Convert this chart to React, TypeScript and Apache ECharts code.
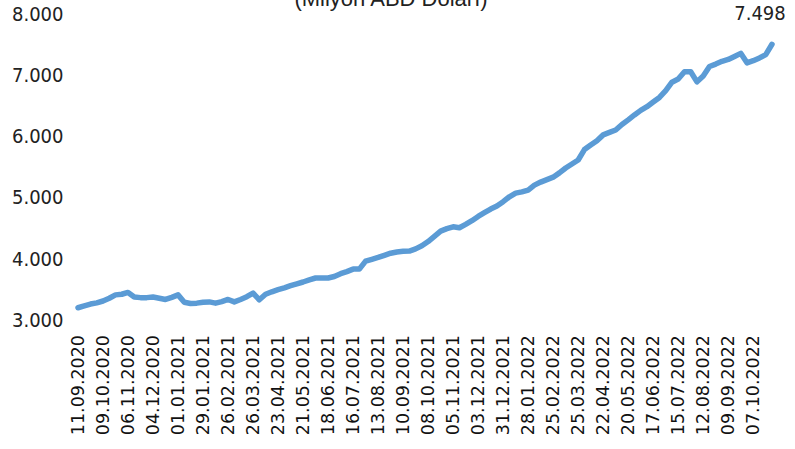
import React, { useEffect, useRef } from "react";
import * as echarts from "echarts";

// Weekly observations (Friday dates) starting 11.09.2020
const startDate = "2020-09-11";
const weekCount = 112;

// Values in million USD
const values: number[] = [
  3200, 3230, 3260, 3280, 3310, 3355, 3410, 3420, 3450, 3375,
  3365, 3365, 3375, 3355, 3335, 3370, 3410, 3290, 3270, 3275,
  3290, 3295, 3275, 3300, 3335, 3295, 3335, 3380, 3440, 3330,
  3420, 3460, 3495, 3525, 3560, 3590, 3620, 3655, 3685, 3685,
  3685, 3710, 3755, 3790, 3830, 3830, 3960, 3990, 4020, 4055,
  4090, 4110, 4120, 4125, 4160, 4210, 4280, 4365, 4450, 4490,
  4520, 4505, 4560, 4620, 4690, 4750, 4810, 4860, 4930, 5010,
  5070, 5090, 5120, 5200, 5250, 5290, 5330, 5400, 5480, 5545,
  5610, 5780, 5855, 5925, 6020, 6060, 6100, 6190, 6265, 6345,
  6420, 6480, 6555, 6630, 6740, 6880, 6930, 7050, 7050, 6885,
  6980, 7135, 7175, 7220, 7250, 7300, 7350, 7195, 7230, 7275,
  7330, 7498,
];

const yTicks = { min: 3000, max: 8000, interval: 1000 };
const titleText = "(Milyon ABD Doları)";

function buildDates(): string[] {
  const out: string[] = [];
  const base = new Date(startDate + "T00:00:00Z").getTime();
  for (let i = 0; i < weekCount; i++) {
    const d = new Date(base + i * 7 * 86400000);
    const dd = String(d.getUTCDate()).padStart(2, "0");
    const mm = String(d.getUTCMonth() + 1).padStart(2, "0");
    out.push(`${dd}.${mm}.${d.getUTCFullYear()}`);
  }
  return out;
}
const categories = buildDates();

const fmt = (v: number) => {
  const s = String(Math.round(v));
  return s.replace(/\B(?=(\d{3})+(?!\d))/g, ".");
};

export default function App() {
  const ref = useRef<HTMLDivElement>(null);
  useEffect(() => {
    if (!ref.current) return;
    const chart = echarts.init(ref.current, null, { renderer: "svg" });
    const narrow = '"Liberation Sans Narrow", "Arial Narrow", "DejaVu Sans Condensed", sans-serif';
    const lastIdx = values.length - 1;
    chart.setOption({
      animation: false,
      grid: { left: 78, right: 23, top: 13.5, bottom: 129, containLabel: false },
      graphic: [
        {
          type: "text",
          x: 391,
          y: 9,
          style: {
            text: titleText,
            font: '22px "Liberation Sans", Arial, sans-serif',
            fill: "#222",
            textAlign: "center",
            textVerticalAlign: "bottom",
          },
        },
      ],
      xAxis: {
        type: "category",
        data: categories,
        boundaryGap: false,
        axisLine: { show: false },
        axisTick: { show: false },
        splitLine: { show: false },
        axisLabel: {
          interval: 3,
          rotate: 90,
          margin: 15,
          fontSize: 17.5,
          fontFamily: '"DejaVu Sans", sans-serif',
          color: "#111",
        },
      },
      yAxis: {
        type: "value",
        min: yTicks.min,
        max: yTicks.max,
        interval: yTicks.interval,
        axisLine: { show: false },
        axisTick: { show: false },
        splitLine: { show: false },
        axisLabel: {
          align: "left",
          margin: 66,
          fontSize: 20,
          fontFamily: narrow,
          color: "#222",
          formatter: (v: number) => fmt(v),
        },
      },
      series: [
        {
          type: "line",
          data: values,
          showSymbol: false,
          symbol: "none",
          lineStyle: { color: "#5B9BD5", width: 5.5, cap: "round", join: "round" },
          itemStyle: { color: "#5B9BD5" },
          markPoint: {
            symbol: "circle",
            symbolSize: 1,
            itemStyle: { color: "rgba(0,0,0,0)" },
            data: [
              {
                coord: [lastIdx, values[lastIdx]],
                value: values[lastIdx],
              },
            ],
            label: {
              show: true,
              position: "top",
              offset: [-12, -16],
              fontSize: 20,
              fontFamily: narrow,
              color: "#222",
              formatter: (p: any) => fmt(p.value),
            },
          },
        },
      ],
    });
    return () => chart.dispose();
  }, []);
  return <div ref={ref} style={{ width: 795, height: 449, position: "absolute", left: 0, top: 0 }} />;
}
